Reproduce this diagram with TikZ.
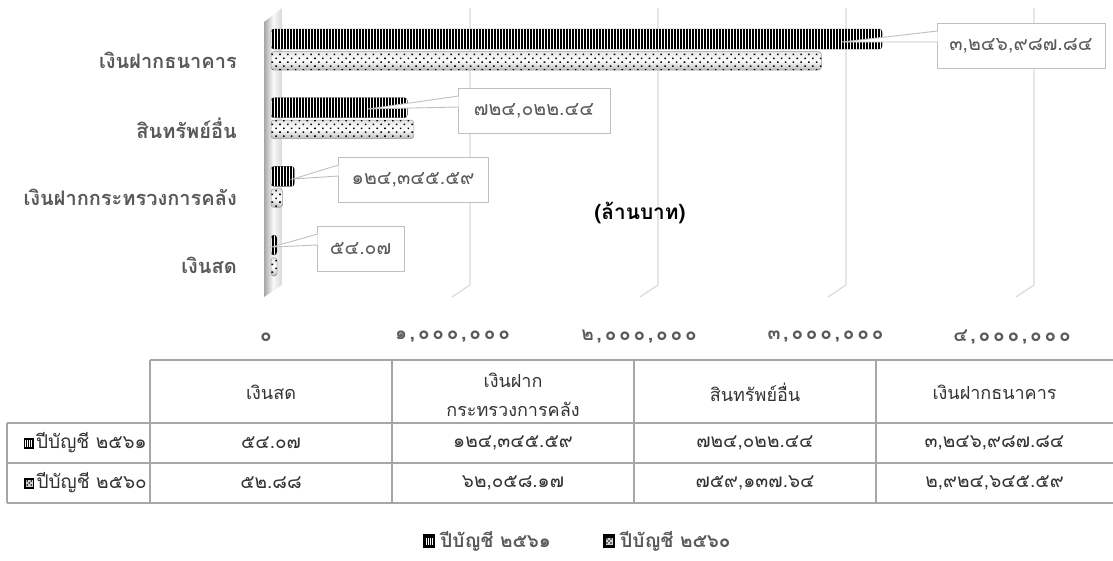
\documentclass[tikz,border=0pt]{standalone}
\usepackage{fontspec}
\setmainfont[Script=Thai]{Loma}
\usetikzlibrary{calc,positioning,patterns.meta}
\definecolor{txtgray}{HTML}{595959}
\definecolor{gridgray}{HTML}{D9D9D9}
\definecolor{tabgray}{HTML}{A6A6A6}
\definecolor{boxgray}{HTML}{BFBFBF}
\begin{document}
\begin{tikzpicture}[x=1pt,y=-1pt,
    cat/.style={text=txtgray,font=\fontsize{20}{22}\selectfont\bfseries,anchor=east,inner sep=0pt},
    axlbl/.style={text=txtgray,font=\fontsize{19}{21}\selectfont\bfseries\addfontfeature{LetterSpace=15},inner sep=0pt},
    tab/.style={text=black!80,font=\fontsize{18}{20}\selectfont,inner sep=0pt},
    num/.style={tab,font=\fontsize{19}{21}\selectfont},
    callout/.style={draw=boxgray,fill=white,line width=0.9pt},
    valbox/.style={callout,text=txtgray,font=\fontsize{19.5}{21}\selectfont,minimum height=45pt,outer sep=0pt,inner sep=0pt},
    grid/.style={draw=gridgray,line width=1.2pt},
    rule/.style={draw=tabgray,line width=1.1pt},
    bar61/.style={rounded corners=3pt,fill=white,draw=black!70,line width=0.4pt,
        postaction={pattern={Lines[angle=90,distance=3pt,line width=1.6pt]},pattern color=black}},
    bar60/.style={rounded corners=3pt,top color=gray!20,bottom color=gray!55,middle color=white,draw=gray!80,line width=0.5pt,
        postaction={pattern={Dots[angle=45,distance=5.5pt,radius=1.1pt]},pattern color=black}},
    key61/.style={fill=black,minimum width=10pt,minimum height=11pt,inner sep=0pt,
        path picture={\foreach \k in {-1.5,-0.5,0.5,1.5}
            \draw[white,line width=0.8pt] ([xshift=\k*2pt,yshift=-3.5pt]path picture bounding box.center) -- ++(0,-7);}},
    key60/.style={fill=black,minimum width=10pt,minimum height=11pt,inner sep=0pt,
        path picture={\fill[gray!35] ([xshift=-3.5pt,yshift=-3.5pt]path picture bounding box.center) rectangle ++(7,-7);
            \foreach \dx/\dy in {-2/-2,2/-2,0/0,-2/2,2/2}
            \fill[black] ([xshift=\dx pt,yshift=\dy pt]path picture bounding box.center) circle (0.8pt);}},
    leg/.style={text=txtgray,font=\fontsize{19}{21}\selectfont\bfseries,inner sep=0pt}]
\useasboundingbox (0,0) rectangle (1113,560);
\def\zx{271}   % start of the bars
\def\sc{188.2} % pixels per million baht
% back wall and grid
\shade[left color=gray!70,right color=gray!30,middle color=gray!5] (264,22) -- (282,8) -- (282,285) -- (264,297) -- cycle;
\foreach \k in {1,...,4}
    \draw[grid] (282+188*\k,8) -- (282+188*\k,285) -- (264+188*\k,297);
% bars, top to bottom
\foreach \v/\w [count=\i from 0] in {3.24698784/2.92464559,0.72402244/0.75913764,0.12434559/0.06205817,0.00005407/0.00005288}{
    \pgfmathsetmacro\c{50+68.7*\i}
    \pgfmathsetmacro\la{max(6,\sc*\v)}
    \pgfmathsetmacro\lb{max(6,\sc*\w)}
    \path[bar61] (\zx,\c-21) rectangle ++(\la,20);
    \path[bar60] (\zx,\c+1.5) rectangle ++(\lb,18.5);
}
% category labels
\node[cat] (c1) at (237,60) {เงินฝากธนาคาร};
\node[cat] (c2) at (237,128) {สินทรัพย์อื่น};
\node[cat] (c3) at (237,197) {เงินฝากกระทรวงการคลัง};
\node[cat] (c4) at (237,265) {เงินสด};
% value callouts
\coordinate (t1) at (842,42);
\coordinate (t2) at (368,109);
\coordinate (t3) at (293,179);
\coordinate (t4) at (272,247);
\node[valbox,minimum width=168pt] (v1) at (1021,45.5) {๓,๒๔๖,๙๘๗.๘๔};
\node[valbox,minimum width=152pt] (v2) at (534,110.5) {๗๒๔,๐๒๒.๔๔};
\node[valbox,minimum width=150pt] (v3) at (413,179.5) {๑๒๔,๓๔๕.๕๙};
\node[valbox,minimum width=87pt] (v4) at (360.5,248.5) {๕๔.๐๗};
\foreach \n in {1,...,4}
    \filldraw[callout] ($(v\n.north west)+(0.5,8)$) -- (t\n) -- ($(v\n.north west)+(0.5,19)$);
\node[font=\fontsize{20.8}{22}\selectfont\bfseries,inner sep=0pt] (unit) at (640,213) {(ล้านบาท)};
% axis labels
\node[axlbl] (a0) at (266,337) {๐};
\node[axlbl] (a1) at (452.5,337) {๑,๐๐๐,๐๐๐};
\node[axlbl] (a2) at (639,337) {๒,๐๐๐,๐๐๐};
\node[axlbl] (a3) at (825.5,337) {๓,๐๐๐,๐๐๐};
\node[axlbl] (a4) at (1012,337) {๔,๐๐๐,๐๐๐};
% data table
\draw[rule] (150,360) -- (1113,360);
\foreach \y in {423,463,503} \draw[rule] (7,\y) -- (1113,\y);
\draw[rule] (7,423) -- (7,503);
\foreach \x in {150,392,634,876} \draw[rule] (\x,360) -- (\x,503);
\node[tab] (h1) at (271,392) {เงินสด};
\node[tab] (h2a) at (513,380) {เงินฝาก};
\node[tab] (h2b) at (513,409) {กระทรวงการคลัง};
\node[tab] (h3) at (755,392) {สินทรัพย์อื่น};
\node[tab] (h4) at (994.5,392) {เงินฝากธนาคาร};
\node[num,anchor=east] (r1) at (147,443) {ปีบัญชี ๒๕๖๑};
\node[key61,left=2pt of r1] (k1) {};
\node[num,anchor=east] (r2) at (147,483) {ปีบัญชี ๒๕๖๐};
\node[key60,left=2pt of r2] (k2) {};
\node[num] (d11) at (271,443) {๕๔.๐๗};
\node[num] (d12) at (513,443) {๑๒๔,๓๔๕.๕๙};
\node[num] (d13) at (755,443) {๗๒๔,๐๒๒.๔๔};
\node[num] (d14) at (994.5,443) {๓,๒๔๖,๙๘๗.๘๔};
\node[num] (d21) at (271,483) {๕๒.๘๘};
\node[num] (d22) at (513,483) {๖๒,๐๕๘.๑๗};
\node[num] (d23) at (755,483) {๗๕๙,๑๓๗.๖๔};
\node[num] (d24) at (994.5,483) {๒,๙๒๔,๖๔๕.๕๙};
% legend
\node[key61,minimum width=12pt,minimum height=14pt] (lk1) at (429,541) {};
\node[leg,right=5pt of lk1] (l1) {ปีบัญชี ๒๕๖๑};
\node[key60,minimum width=12pt,minimum height=14pt] (lk2) at (609,541) {};
\node[leg,right=5pt of lk2] (l2) {ปีบัญชี ๒๕๖๐};
\end{tikzpicture}
\end{document}
